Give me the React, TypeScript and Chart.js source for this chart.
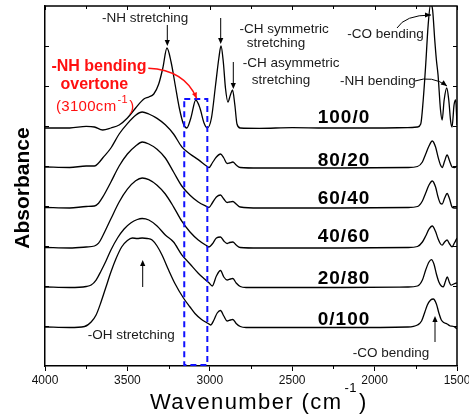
import React, { useEffect, useRef } from 'react';
import { Chart, registerables } from 'chart.js';

Chart.register(...registerables);

const FONT = '"Liberation Sans", Arial, Helvetica, sans-serif';

// ---- data (wavenumber in cm-1, absorbance with vertical offsets) ----
const seriesNames = ['100/0', '80/20', '60/40', '40/60', '20/80', '0/100'];

const wn100 = [4000, 3850, 3750, 3700, 3650, 3600, 3550, 3500, 3450, 3400, 3370, 3340, 3310, 3285, 3260, 3235, 3210, 3185, 3160, 3140, 3115, 3085, 3060, 3035, 3015, 2990, 2965, 2945, 2932, 2918, 2905, 2890, 2875, 2862, 2848, 2835, 2815, 2700, 2500, 2300, 2000, 1800, 1740, 1720, 1705, 1690, 1675, 1660, 1648, 1635, 1625, 1615, 1600, 1590, 1578, 1562, 1550, 1538, 1530, 1518, 1508, 1500];
const abs100 = [5.95, 5.95, 5.99, 5.975, 5.9, 5.95, 6.025, 6.2, 6.45, 6.675, 6.725, 6.8, 7.05, 7.45, 7.95, 7.6, 7.025, 6.45, 6.05, 5.95, 6.2, 6.65, 6.45, 6.075, 5.95, 6.2, 7.025, 7.7, 8.0, 7.6, 6.95, 6.6, 6.775, 6.9, 6.525, 6.05, 5.95, 5.94, 5.96, 5.95, 5.95, 5.96, 5.975, 6.05, 6.65, 7.525, 8.525, 9.05, 8.9, 8.15, 7.65, 7.275, 6.4, 6.15, 6.65, 6.95, 6.65, 6.1, 5.975, 6.525, 6.65, 6.025];

const wnBlend = [4000, 3850, 3750, 3700, 3675, 3650, 3600, 3550, 3500, 3450, 3410, 3370, 3320, 3270, 3220, 3170, 3120, 3070, 3020, 3005, 2985, 2960, 2935, 2915, 2895, 2880, 2860, 2840, 2815, 2700, 2200, 1800, 1740, 1710, 1690, 1670, 1650, 1630, 1615, 1600, 1590, 1575, 1560, 1545, 1530, 1515, 1500];
const abs8020 = [4.975, 4.9625, 5.0, 5.0, 5.075, 5.2, 5.45, 5.8, 6.06, 6.27, 6.35, 6.3, 6.19, 6.03, 5.8, 5.48, 5.3, 5.16, 5.0, 4.96, 5.075, 5.225, 5.3, 5.2, 5.0625, 5.075, 5.1, 5.025, 4.9625, 4.95, 4.95, 4.9625, 4.9875, 5.1, 5.3, 5.5, 5.625, 5.475, 5.225, 5.025, 4.9625, 5.125, 5.275, 5.125, 4.975, 4.96, 5.0];
const abs6040 = [3.9625, 3.95, 3.9875, 4.0, 4.07, 4.22, 4.6, 5.0, 5.3, 5.5, 5.6, 5.55, 5.42, 5.2, 4.85, 4.5, 4.27, 4.1, 3.99, 3.9625, 4.075, 4.225, 4.275, 4.175, 4.0875, 4.1, 4.1125, 4.05, 3.975, 3.95, 3.95, 3.9625, 3.9875, 4.125, 4.325, 4.525, 4.625, 4.475, 4.225, 4.0625, 4.05, 4.2, 4.3125, 4.175, 3.975, 3.95, 3.95];
const abs4060 = [2.9625, 2.95, 2.975, 3.0, 3.07, 3.25, 3.68, 4.1, 4.42, 4.63, 4.7, 4.66, 4.52, 4.3, 3.98, 3.62, 3.35, 3.15, 3.01, 2.975, 3.05, 3.2, 3.225, 3.125, 3.0625, 3.0875, 3.1, 3.025, 2.9625, 2.95, 2.95, 2.9625, 2.9875, 3.1, 3.25, 3.42, 3.5, 3.36, 3.18, 3.05, 3.02, 3.1, 3.15, 3.05, 2.98, 3.08, 3.2];

const wn2080 = [4000, 3850, 3750, 3720, 3690, 3660, 3630, 3600, 3560, 3520, 3480, 3440, 3410, 3370, 3320, 3270, 3220, 3170, 3120, 3070, 3030, 3005, 2985, 2960, 2935, 2915, 2895, 2875, 2860, 2840, 2815, 2780, 2200, 1800, 1740, 1710, 1690, 1670, 1655, 1640, 1625, 1610, 1595, 1583, 1570, 1559, 1547, 1536, 1520, 1500];
const abs2080 = [1.975, 1.9625, 1.9875, 2.025, 2.15, 2.375, 2.625, 2.9, 3.2, 3.425, 3.575, 3.6625, 3.6875, 3.65, 3.5, 3.275, 3.1, 2.78, 2.55, 2.32, 2.17, 2.08, 2.0, 2.25, 2.3875, 2.225, 2.15, 2.175, 2.1875, 2.075, 1.9875, 1.9625, 1.9625, 1.975, 2.0, 2.15, 2.4, 2.6, 2.66, 2.55, 2.3, 2.1, 2.0, 1.98, 2.12, 2.23, 2.1, 2.02, 2.05, 2.08];

const wn0100 = [4000, 3850, 3760, 3720, 3690, 3660, 3630, 3600, 3570, 3535, 3500, 3470, 3440, 3410, 3380, 3350, 3320, 3290, 3250, 3210, 3160, 3120, 3090, 3050, 3010, 2995, 2975, 2955, 2935, 2915, 2895, 2875, 2860, 2840, 2815, 2780, 2200, 1800, 1740, 1715, 1695, 1680, 1660, 1644, 1625, 1610, 1595, 1580, 1560, 1540, 1520, 1500];
const abs0100 = [0.975, 0.9625, 0.9875, 1.1, 1.275, 1.6, 1.975, 2.35, 2.675, 2.975, 3.1375, 3.2, 3.1875, 3.2, 3.1875, 3.15, 3.0, 2.775, 2.4, 2.05, 1.7, 1.475, 1.3125, 1.1625, 1.0625, 1.025, 1.15, 1.325, 1.3875, 1.25, 1.125, 1.15, 1.1625, 1.0625, 0.9875, 0.9625, 0.9625, 0.975, 1.025, 1.125, 1.35, 1.525, 1.65, 1.675, 1.55, 1.325, 1.15, 1.0875, 1.05, 1.0, 0.9875, 0.925];

const seriesWn = [wn100, wnBlend, wnBlend, wnBlend, wn2080, wn0100];
const seriesAbs = [abs100, abs8020, abs6040, abs4060, abs2080, abs0100];

const xTickValues = [4000, 3500, 3000, 2500, 2000, 1500];
const xMinorTickValues = [3750, 3250, 2750, 2250, 1750];
const yTickValues = [1, 2, 3, 4, 5, 6, 7, 8];

// highlighted overtone window (cm-1) and its top (absorbance units)
const boxRange = [3155, 3015];
const boxTop = 6.675;

function arrowHead(ctx: CanvasRenderingContext2D, tx: number, ty: number, fx: number, fy: number, len = 6, w = 2.6) {
  const a = Math.atan2(ty - fy, tx - fx);
  const bx = tx - len * Math.cos(a);
  const by = ty - len * Math.sin(a);
  ctx.beginPath();
  ctx.moveTo(tx, ty);
  ctx.lineTo(bx + w * Math.sin(a), by - w * Math.cos(a));
  ctx.lineTo(bx - w * Math.sin(a), by + w * Math.cos(a));
  ctx.closePath();
  ctx.fill();
}

function vArrow(ctx: CanvasRenderingContext2D, x: number, y0: number, y1: number) {
  const dir = Math.sign(y1 - y0);
  ctx.beginPath();
  ctx.moveTo(x, y0);
  ctx.lineTo(x, y1 - dir * 4);
  ctx.stroke();
  arrowHead(ctx, x, y1, x, y0);
}

function curvedArrow(ctx: CanvasRenderingContext2D, x0: number, y0: number, cx: number, cy: number, x1: number, y1: number) {
  ctx.beginPath();
  ctx.moveTo(x0, y0);
  ctx.quadraticCurveTo(cx, cy, x1, y1);
  ctx.stroke();
  arrowHead(ctx, x1, y1, cx, cy);
}

const annotPlugin = {
  id: 'annot',
  afterDatasetsDraw(chart: any) {
    const { ctx, chartArea: a, scales } = chart;
    const x = scales.x;
    const y = scales.y;
    const c = ctx as CanvasRenderingContext2D & { letterSpacing?: string };
    c.save();

    // frame top & right
    c.strokeStyle = '#000';
    c.lineWidth = 1.5;
    c.beginPath();
    c.moveTo(a.left, a.top);
    c.lineTo(a.right, a.top);
    c.lineTo(a.right, a.bottom);
    c.stroke();

    // extra ticks
    c.lineWidth = 1;
    c.beginPath();
    for (const v of xMinorTickValues) {
      const px = Math.round(x.getPixelForValue(v)) + 0.5;
      c.moveTo(px, a.bottom);
      c.lineTo(px, a.bottom + 3);
    }
    for (const v of [...xTickValues, ...xMinorTickValues]) {
      const px = Math.round(x.getPixelForValue(v)) + 0.5;
      c.moveTo(px, a.top);
      c.lineTo(px, a.top + (xTickValues.includes(v) ? 4 : 3));
    }
    for (const v of yTickValues) {
      const py = Math.round(y.getPixelForValue(v)) + 0.5;
      c.moveTo(a.left, py);
      c.lineTo(a.left + 4, py);
      c.moveTo(a.right, py);
      c.lineTo(a.right - 4, py);
    }
    c.stroke();

    // blue dashed window
    const bx0 = x.getPixelForValue(boxRange[0]);
    const bx1 = x.getPixelForValue(boxRange[1]);
    const by0 = y.getPixelForValue(boxTop);
    const by1 = y.getPixelForValue(0);
    c.strokeStyle = '#1010ff';
    c.lineWidth = 2;
    c.setLineDash([6, 4]);
    c.strokeRect(bx0, by0, bx1 - bx0, by1 - by0 - 1);
    c.setLineDash([]);

    // sample labels
    c.fillStyle = '#000';
    c.font = `bold 19px ${FONT}`;
    c.textAlign = 'center';
    c.textBaseline = 'middle';
    c.letterSpacing = '1px';
    const labelY = [118, 160.7, 198.3, 236.7, 278.3, 319.3];
    seriesNames.forEach((n, i) => c.fillText(n, 344, labelY[i]));
    c.letterSpacing = '0px';

    // black annotations
    c.fillStyle = '#1a1a1a';
    c.font = `13.5px ${FONT}`;
    c.textAlign = 'left';
    const texts: [string, number, number][] = [
      ['-NH stretching', 102, 18.3],
      ['-CH symmetric', 239.5, 29.3],
      ['stretching', 246.7, 43.3],
      ['-CO bending', 347.3, 34.3],
      ['-CH asymmetric', 242.7, 63.3],
      ['stretching', 251.7, 80],
      ['-NH bending', 340, 81.7],
      ['-OH stretching', 87.7, 335.7],
      ['-CO bending', 352.7, 353.3],
    ];
    texts.forEach(([t, tx, ty]) => c.fillText(t, tx, ty));

    c.strokeStyle = '#000';
    c.fillStyle = '#000';
    c.lineWidth = 1;
    vArrow(c, 167.3, 25, 46);
    vArrow(c, 220.7, 18, 44);
    vArrow(c, 233.3, 62, 89);
    vArrow(c, 142.7, 287, 260);
    vArrow(c, 435, 342, 316);
    curvedArrow(c, 397, 28, 405, 15, 431, 15);
    curvedArrow(c, 415, 81, 432, 75, 447, 86);

    // red overtone annotation
    c.fillStyle = '#ff1010';
    c.strokeStyle = '#ff1010';
    c.font = `bold 16px ${FONT}`;
    c.textAlign = 'center';
    c.fillText('-NH bending', 99, 66.7);
    c.fillText('overtone', 94.3, 85);
    c.textAlign = 'left';
    c.font = `15px ${FONT}`;
    c.letterSpacing = '0.3px';
    const p1 = '(3100cm';
    c.fillText(p1, 56, 107);
    let cx = 56 + c.measureText(p1).width + 1;
    c.font = `11px ${FONT}`;
    c.fillText('-1', cx, 100);
    cx += c.measureText('-1').width + 1.5;
    c.font = `15px ${FONT}`;
    c.fillText(')', cx, 107);
    c.letterSpacing = '0px';
    c.lineWidth = 1.4;
    curvedArrow(c, 148.3, 68.3, 185, 70, 196.7, 98.5);

    // axis titles
    c.fillStyle = '#000';
    c.textBaseline = 'alphabetic';
    c.font = `22px ${FONT}`;
    c.letterSpacing = '1.4px';
    const t1 = 'Wavenumber (cm';
    c.fillText(t1, 150, 408.5);
    let tx = 150 + c.measureText(t1).width + 2;
    c.font = `13px ${FONT}`;
    c.letterSpacing = '0.5px';
    c.fillText('-1', tx, 392);
    tx += c.measureText('-1').width + 2;
    c.font = `22px ${FONT}`;
    c.letterSpacing = '0px';
    c.fillText(')', tx, 408.5);

    c.save();
    c.translate(28.5, 188);
    c.rotate(-Math.PI / 2);
    c.textAlign = 'center';
    c.font = `bold 21px ${FONT}`;
    c.fillText('Absorbance', 0, 0);
    c.restore();

    c.restore();
  },
};

export default function App() {
  const ref = useRef<HTMLCanvasElement>(null);
  useEffect(() => {
    if (!ref.current) return;
    const chart = new Chart(ref.current, {
      type: 'line',
      data: {
        datasets: seriesNames.map((name, i) => ({
          label: name,
          data: seriesWn[i].map((w, j) => ({ x: w, y: seriesAbs[i][j] })),
          borderColor: '#000',
          borderWidth: 1.3,
          pointRadius: 0,
          fill: false,
          cubicInterpolationMode: 'monotone' as const,
        })),
      },
      options: {
        animation: false,
        responsive: false,
        devicePixelRatio: 1,
        events: [],
        layout: { padding: { top: 6, right: 12, left: 0, bottom: 0 } },
        plugins: { legend: { display: false }, tooltip: { enabled: false } },
        scales: {
          x: {
            type: 'linear',
            reverse: true,
            min: 1500,
            max: 4000,
            afterBuildTicks: (s: any) => {
              s.ticks = xTickValues.map((v) => ({ value: v }));
            },
            afterFit: (s: any) => {
              s.height = 53;
              s.paddingLeft = 0;
              s.paddingRight = 0;
            },
            ticks: {
              callback: (v: any) => String(v),
              font: { family: FONT, size: 12 },
              color: '#111',
              padding: 2,
              maxRotation: 0,
              autoSkip: false,
            },
            grid: { drawOnChartArea: false, drawTicks: true, tickLength: 5, tickColor: '#000', tickWidth: 1, color: '#000' },
            border: { display: true, color: '#000', width: 1.5 },
          },
          y: {
            min: 0,
            max: 9,
            afterFit: (s: any) => {
              s.width = 45;
            },
            ticks: { display: false },
            grid: { display: false },
            border: { display: true, color: '#000', width: 1.5 },
          },
        },
      },
      plugins: [annotPlugin],
    });
    return () => chart.destroy();
  }, []);
  return (
    <div style={{ position: 'fixed', left: 0, top: 0, width: 469, height: 419, background: '#fff' }}>
      <canvas ref={ref} width={469} height={419} style={{ display: 'block', width: 469, height: 419 }} />
    </div>
  );
}
